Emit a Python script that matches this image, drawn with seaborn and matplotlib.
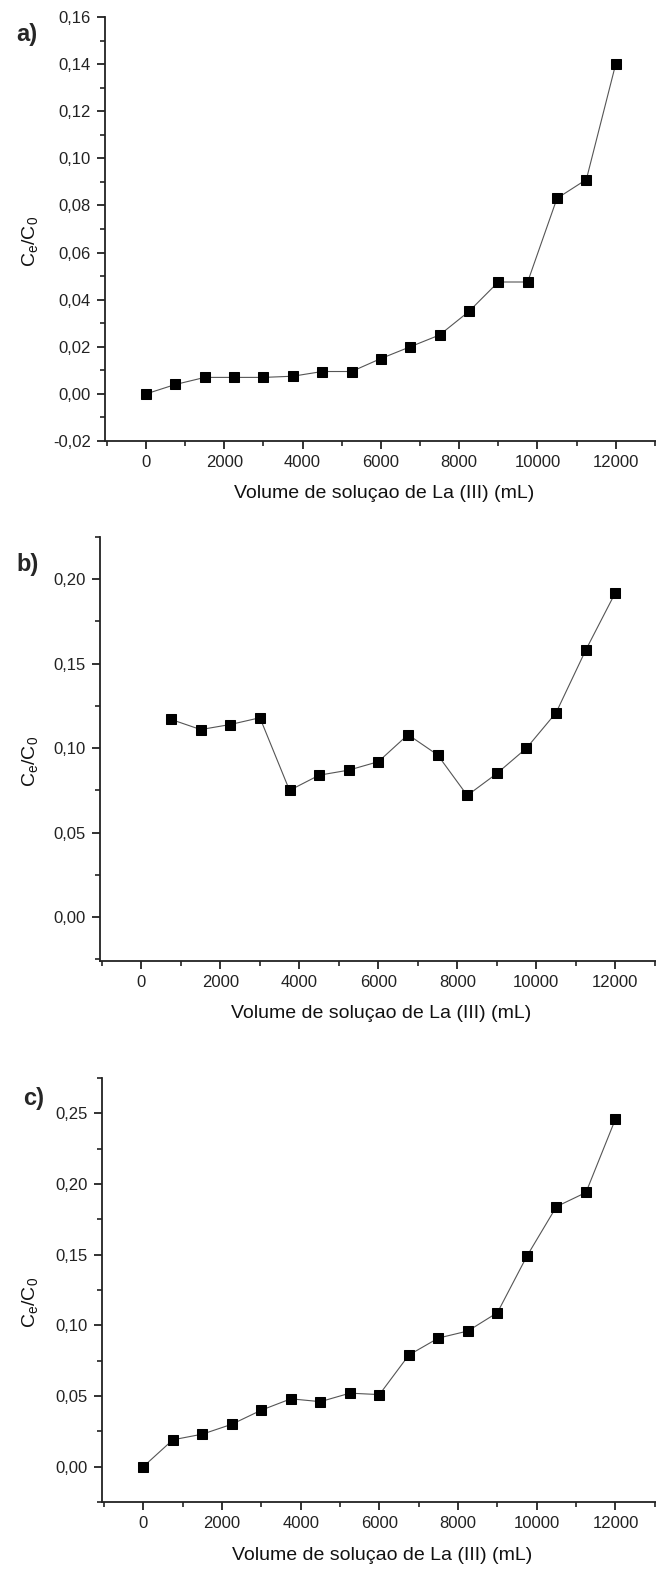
import numpy as np
import pandas as pd
import seaborn as sns
import matplotlib
matplotlib.use("Agg")
import matplotlib.pyplot as plt
from matplotlib.ticker import MultipleLocator, FuncFormatter

sns.set_theme(style="ticks")
plt.rcParams['font.family'] = ['Liberation Sans', 'DejaVu Sans']

vol_a = [0, 750, 1500, 2250, 3000, 3750, 4500, 5250, 6000, 6750, 7500, 8250, 9000, 9750, 10500, 11250, 12000]
ce_a = [0.0, 0.004, 0.007, 0.007, 0.007, 0.0075, 0.0095, 0.0095, 0.015, 0.020, 0.025, 0.035, 0.0475, 0.0475, 0.083, 0.091, 0.140]

vol_b = [750, 1500, 2250, 3000, 3750, 4500, 5250, 6000, 6750, 7500, 8250, 9000, 9750, 10500, 11250, 12000]
ce_b = [0.117, 0.111, 0.114, 0.118, 0.075, 0.084, 0.087, 0.092, 0.108, 0.096, 0.072, 0.085, 0.100, 0.121, 0.158, 0.192]

vol_c = [0, 750, 1500, 2250, 3000, 3750, 4500, 5250, 6000, 6750, 7500, 8250, 9000, 9750, 10500, 11250, 12000]
ce_c = [0.0, 0.019, 0.023, 0.030, 0.040, 0.048, 0.046, 0.052, 0.051, 0.079, 0.091, 0.096, 0.109, 0.149, 0.184, 0.194, 0.246]

panel_labels = ["a)", "b)", "c)"]
xlabel = "Volume de soluçao de La (III) (mL)"

W, H = 656, 1569
fig = plt.figure(figsize=(W / 100, H / 100), dpi=100)

# (left, top, right, bottom) in pixels
boxes = [(105, 17, 656, 441), (100, 537, 656, 961), (102, 1078, 656, 1502)]
ylims = [(-0.02, 0.16), (-0.026, 0.225), (-0.025, 0.275)]
ymaj = [0.02, 0.05, 0.05]
datasets = [(vol_a, ce_a), (vol_b, ce_b), (vol_c, ce_c)]
label_pos = [(16, 35), (16, 565), (23, 1098)]

def comma_fmt(d):
    return FuncFormatter(lambda v, p: f"{v:.{d}f}".replace(".", ","))

for i, ((l, t, r, b), (xs, ys)) in enumerate(zip(boxes, datasets)):
    aw, ah = r - l, b - t
    ax = fig.add_axes([l / W, 1 - b / H, aw / W, ah / H])
    df = pd.DataFrame({"x": xs, "y": ys})
    sns.lineplot(data=df, x="x", y="y", ax=ax, color="#555555", linewidth=0.8,
                 marker="s", markersize=7.5, markerfacecolor="black",
                 markeredgecolor="black")
    ax.set_xlim(-1050, 13030)
    ax.set_ylim(*ylims[i])
    ax.xaxis.set_major_locator(MultipleLocator(2000))
    ax.xaxis.set_minor_locator(MultipleLocator(1000))
    ax.yaxis.set_major_locator(MultipleLocator(ymaj[i]))
    ax.yaxis.set_minor_locator(MultipleLocator(ymaj[i] / 2))
    ax.yaxis.set_major_formatter(comma_fmt(2))
    ax.xaxis.set_major_formatter(FuncFormatter(lambda v, p: f"{int(v)}"))
    for s in ["top", "right"]:
        ax.spines[s].set_visible(False)
    for s in ["left", "bottom"]:
        ax.spines[s].set_linewidth(1.3)
        ax.spines[s].set_color("#222222")
    ax.tick_params(which="major", direction="out", length=6, width=1.3,
                   labelsize=12, colors="#222222", pad=4)
    ax.tick_params(which="minor", direction="out", length=3.5, width=1.2,
                   colors="#222222")
    ax.set_xlabel(xlabel, fontsize=14, color="#111111")
    ax.set_ylabel("C$_\\mathregular{e}$/C$_\\mathregular{0}$", fontsize=14,
                  color="#111111")
    ax.xaxis.set_label_coords((384 - 105) / 551, -53 / ah)
    ax.yaxis.set_label_coords((31 - l) / aw, 0.47)
    ax.xaxis.label.set_va("center")
    ax.yaxis.label.set_va("center")
    lx, ly = label_pos[i]
    fig.text(lx / W, 1 - ly / H, panel_labels[i], fontsize=17,
             fontweight="bold", ha="left", va="center")

fig.savefig("out.png", dpi=100)
